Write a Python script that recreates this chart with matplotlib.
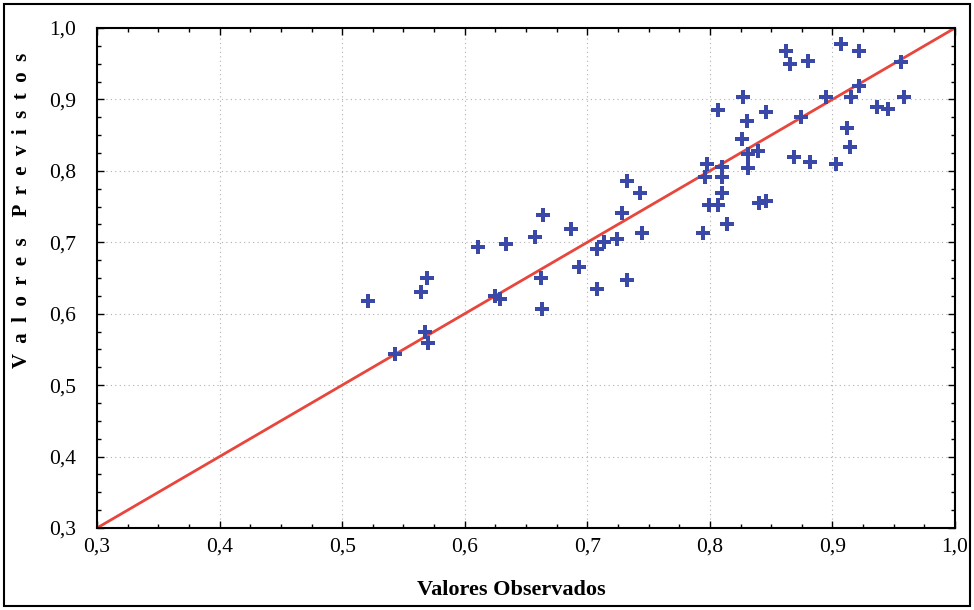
import matplotlib
matplotlib.use("Agg")
import matplotlib.pyplot as plt
from matplotlib.ticker import MultipleLocator, FuncFormatter
from matplotlib.patches import Rectangle

# observados (x) e previstos (y)
obs = [0.521, 0.543, 0.564, 0.569, 0.568, 0.570, 0.611, 0.634, 0.625, 0.629,
       0.657, 0.664, 0.687, 0.662, 0.663, 0.693, 0.708, 0.714, 0.724, 0.728,
       0.732, 0.743, 0.745, 0.708, 0.732,
       0.794, 0.798, 0.796, 0.810, 0.810, 0.810, 0.799, 0.807, 0.814, 0.826,
       0.827, 0.807, 0.830, 0.846, 0.831, 0.839, 0.831, 0.840, 0.846, 0.869,
       0.882, 0.903, 0.874, 0.862, 0.865, 0.880, 0.907, 0.922, 0.956, 0.895,
       0.915, 0.922, 0.936, 0.945, 0.958, 0.912, 0.914]
prev = [0.618, 0.544, 0.630, 0.650, 0.574, 0.559, 0.693, 0.698, 0.625, 0.621,
        0.707, 0.738, 0.719, 0.650, 0.607, 0.665, 0.691, 0.700, 0.705, 0.741,
        0.786, 0.769, 0.713, 0.635, 0.647,
        0.713, 0.810, 0.791, 0.805, 0.791, 0.769, 0.752, 0.752, 0.726, 0.845,
        0.903, 0.885, 0.870, 0.882, 0.824, 0.828, 0.804, 0.755, 0.758, 0.819,
        0.812, 0.810, 0.875, 0.968, 0.950, 0.954, 0.978, 0.968, 0.952, 0.903,
        0.903, 0.919, 0.889, 0.887, 0.903, 0.860, 0.833]

linha = [0.3, 1.0]

plt.rcParams['font.family'] = ['Liberation Serif', 'DejaVu Serif']

fig = plt.figure(figsize=(9.74, 6.10), dpi=100)
ax = fig.add_axes([97 / 974, 82 / 610, 858 / 974, 500 / 610])

ax.plot(linha, linha, color='#e8463c', lw=2, zorder=2)
ax.plot(obs, prev, linestyle='none', marker='P', markersize=10,
        color='#3a48a8', markeredgewidth=0, zorder=3)

ax.set_xlim(0.3, 1.0)
ax.set_ylim(0.3, 1.0)
ax.xaxis.set_major_locator(MultipleLocator(0.1))
ax.yaxis.set_major_locator(MultipleLocator(0.1))
ax.xaxis.set_minor_locator(MultipleLocator(0.025))
ax.yaxis.set_minor_locator(MultipleLocator(0.025))
virgula = FuncFormatter(lambda v, p: ('%.1f' % v).replace('.', ','))
ax.xaxis.set_major_formatter(virgula)
ax.yaxis.set_major_formatter(virgula)

ax.tick_params(which='both', direction='in', top=True, right=True,
               color='black', width=1)
ax.tick_params(which='major', length=5, labelsize=15.5)
ax.tick_params(which='minor', length=3)
ax.tick_params(axis='y', pad=15)
ax.tick_params(axis='x', pad=7)

ax.grid(True, which='major', linestyle=(0, (1, 3)), color='#b0b0b0', lw=0.8)
for s in ax.spines.values():
    s.set_linewidth(1.5)

fig.text(511 / 974, 1 - 590 / 610, 'Valores Observados', ha='center',
         va='center', fontsize=16, fontweight='bold')
fig.text(22 / 974, 1 - 210 / 610,
         'V  a  l  o  r  e  s    P  r  e  v  i  s  t  o  s',
         ha='center', va='center', rotation=90, fontsize=15,
         fontweight='bold')

fig.patches.append(Rectangle((4 / 974, 4 / 610), 966 / 974, 602 / 610,
                             transform=fig.transFigure, fill=False,
                             edgecolor='black', lw=1.5))

fig.savefig('out.png', dpi=100)
